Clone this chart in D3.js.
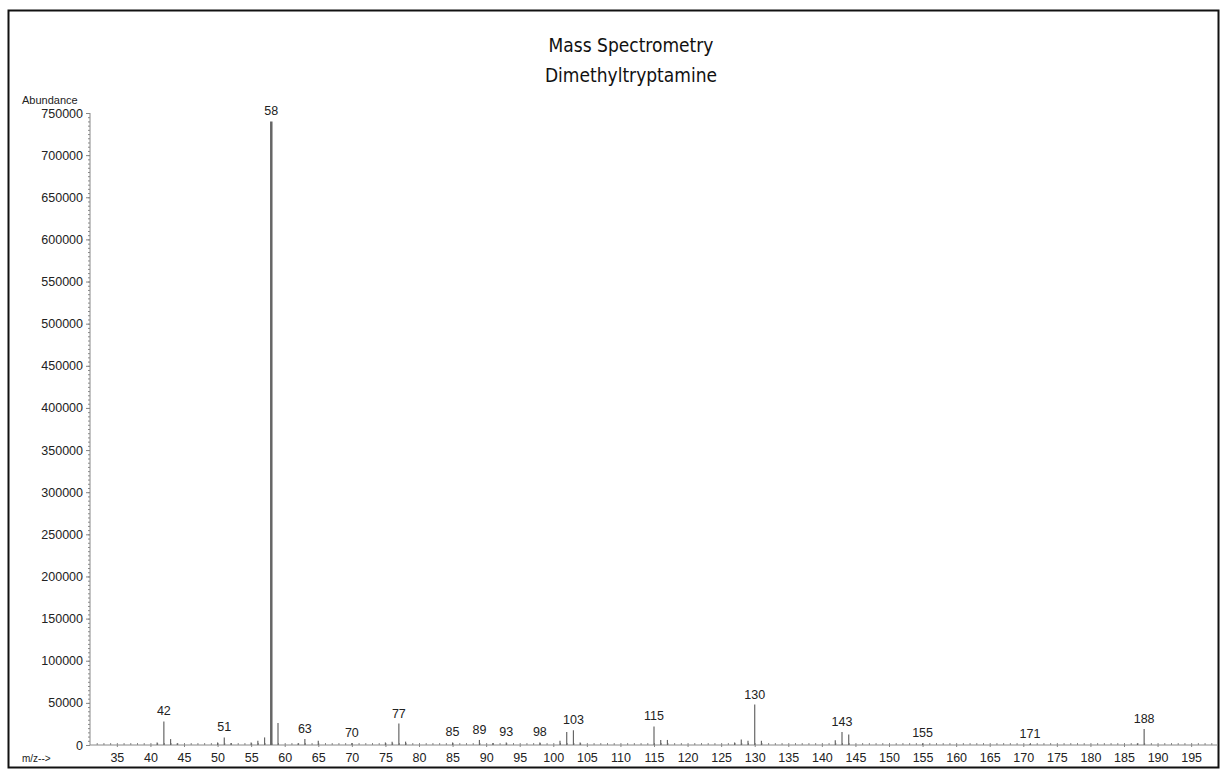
<!DOCTYPE html>
<html>
<head>
<meta charset="utf-8">
<script src="https://cdn.jsdelivr.net/npm/d3@7"></script>
<style>
  body { margin: 0; background: #fff; }
  text { font-family: "Liberation Sans", Arial, sans-serif; fill: #222; }
  .title { font-family: "DejaVu Sans Condensed", "DejaVu Sans", sans-serif; font-size: 19px; fill: #111; }
  .axis path, .axis line { stroke: #888; }
  .axis text { font-size: 12.5px; fill: #222; }
</style>
</head>
<body>
<div id="chart"></div>
<script>
// m/z values and abundances
var mz = [41, 42, 43, 44, 50, 51, 52, 55, 56, 57, 58, 59, 62, 63, 65, 70, 75, 76, 77, 78, 85, 89, 91, 93, 98, 101, 102, 103, 104, 115, 116, 117, 127, 128, 129, 130, 131, 142, 143, 144, 155, 171, 187, 188];
var abundance = [3000, 28000, 7000, 2000, 3000, 9000, 2500, 3000, 5000, 9000, 740000, 26000, 2000, 7000, 5000, 2500, 3000, 4000, 25500, 4000, 3000, 6000, 2500, 3000, 3000, 5000, 15500, 17500, 3000, 22000, 6000, 6000, 3000, 6500, 5000, 48000, 5000, 5500, 15500, 12500, 2000, 1500, 2000, 19000];
// peaks that carry a label
var labelled = [42, 51, 58, 63, 70, 77, 85, 89, 93, 98, 103, 115, 130, 143, 155, 171, 188];
var yTicks = [0, 50000, 100000, 150000, 200000, 250000, 300000, 350000, 400000, 450000, 500000, 550000, 600000, 650000, 700000, 750000];
var xTicks = d3.range(35, 200, 5);

var svgWidth = 1220;
var svgHeight = 770;

var svg = d3.select("#chart")
  .append("svg")
  .attr("width", svgWidth)
  .attr("height", svgHeight);

// outer frame
svg.append("rect")
  .attr("x", 8.5).attr("y", 10.5)
  .attr("width", 1210).attr("height", 757)
  .attr("fill", "none")
  .attr("stroke", "#111")
  .attr("stroke-width", 2);

var xScale = d3.scaleLinear().domain([31, 199]).range([90, 1218]);
var yScale = d3.scaleLinear().domain([0, 750000]).range([745, 113]);

// title
svg.append("text").attr("class", "title")
  .attr("x", 631).attr("y", 52).attr("text-anchor", "middle")
  .text("Mass Spectrometry");
svg.append("text").attr("class", "title")
  .attr("x", 631).attr("y", 82).attr("text-anchor", "middle")
  .text("Dimethyltryptamine");

// y axis: minor ticks then labelled majors
svg.append("g")
  .attr("class", "axis")
  .attr("transform", "translate(90,0)")
  .call(d3.axisLeft(yScale).tickValues(d3.range(0, 755000, 5000)).tickSize(2).tickFormat(""))
  .call(g => g.select(".domain").remove());

svg.append("g")
  .attr("class", "axis")
  .attr("transform", "translate(90,0)")
  .call(d3.axisLeft(yScale).tickValues(yTicks).tickSize(4).tickPadding(3).tickFormat(d3.format("d")))
  .call(g => g.select(".domain").attr("d", "M0,745V113").attr("stroke", "#999"));

svg.append("text")
  .attr("x", 22).attr("y", 104)
  .style("font-size", "11px")
  .text("Abundance");

// x axis: minor ticks every 1, majors every 5
svg.append("g")
  .attr("class", "axis")
  .attr("transform", "translate(0,745)")
  .call(d3.axisTop(xScale).tickValues(d3.range(32, 199, 1)).tickSize(2).tickFormat(""))
  .call(g => g.select(".domain").remove());

svg.append("g")
  .attr("class", "axis")
  .attr("transform", "translate(0,745)")
  .call(d3.axisBottom(xScale).tickValues(xTicks).tickSize(2).tickPadding(6))
  .call(g => g.select(".domain").attr("d", "M90,0H1217").attr("stroke", "#777"));

svg.append("text")
  .attr("x", 22).attr("y", 762)
  .style("font-size", "10px")
  .text("m/z-->");

// peaks
var peaks = mz.map((m, i) => ({ mz: m, ab: abundance[i] }));

svg.append("g")
  .selectAll("line")
  .data(peaks)
  .enter()
  .append("line")
  .attr("x1", d => xScale(d.mz))
  .attr("x2", d => xScale(d.mz))
  .attr("y1", yScale(0))
  .attr("y2", d => yScale(d.ab))
  .attr("stroke", "#666")
  .attr("stroke-width", d => d.mz === 58 ? 2.5 : 1.2);

svg.append("g")
  .selectAll("text")
  .data(peaks.filter(d => labelled.includes(d.mz)))
  .enter()
  .append("text")
  .attr("x", d => xScale(d.mz))
  .attr("y", d => yScale(d.ab) - 6)
  .attr("text-anchor", "middle")
  .style("font-size", "12.5px")
  .text(d => d.mz);
</script>
</body>
</html>
